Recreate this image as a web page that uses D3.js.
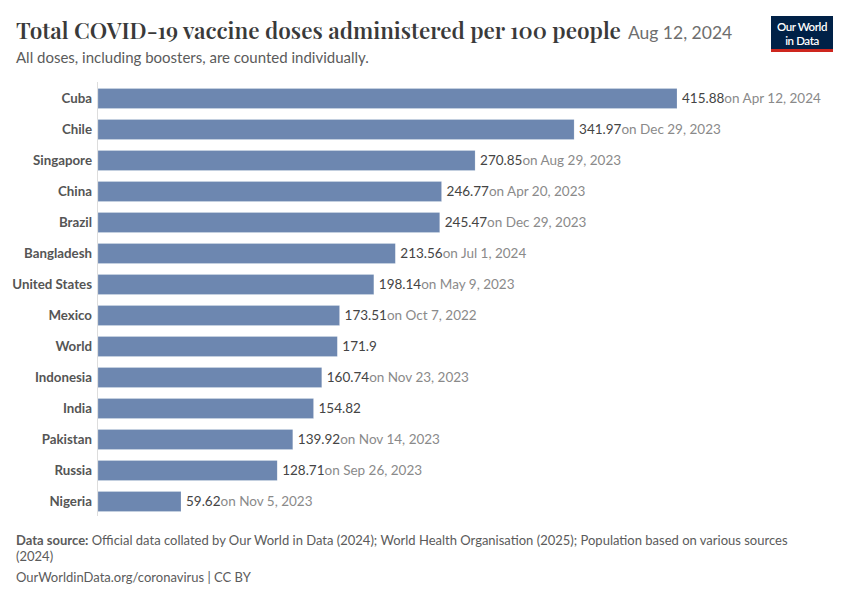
<!DOCTYPE html>
<html>
<head>
<meta charset="utf-8">
<script src="https://cdn.jsdelivr.net/npm/d3@7"></script>
<style>
  body { margin: 0; background: #fff; }
  text { font-family: Lato, "Open Sans", sans-serif; }
</style>
</head>
<body>
<svg id="chart" width="850" height="600"></svg>
<script>
// Countries, values and the date each value was last reported
var countries = ["Cuba", "Chile", "Singapore", "China", "Brazil", "Bangladesh", "United States",
                 "Mexico", "World", "Indonesia", "India", "Pakistan", "Russia", "Nigeria"];
var doses = [415.88, 341.97, 270.85, 246.77, 245.47, 213.56, 198.14,
             173.51, 171.9, 160.74, 154.82, 139.92, 128.71, 59.62];
var dates = ["Apr 12, 2024", "Dec 29, 2023", "Aug 29, 2023", "Apr 20, 2023", "Dec 29, 2023",
             "Jul 1, 2024", "May 9, 2023", "Oct 7, 2022", "", "Nov 23, 2023", "",
             "Nov 14, 2023", "Sep 26, 2023", "Nov 5, 2023"];

var svg = d3.select("#chart");

// Layout of the plot area
var plotLeft = 98,
    plotTop = 83,
    rowStep = 31,
    barHeight = 20,
    barColor = "#6d87b0";

var rows = countries.map(function (c, i) {
    return { country: c, value: doses[i], date: dates[i] };
});

var x = d3.scaleLinear().domain([0, 415.88]).range([plotLeft, 677]);
var y = d3.scaleBand()
    .domain(countries)
    .range([plotTop, plotTop + rowStep * countries.length])
    .paddingInner(1 - barHeight / rowStep)
    .paddingOuter((1 - barHeight / rowStep) / 2);

// Title and subtitle
var title = svg.append("text")
    .attr("x", 16)
    .attr("y", 39)
    .style("font-family", "'Playfair Display', 'Liberation Serif', 'DejaVu Serif', serif")
    .style("font-size", "22.5px")
    .style("font-weight", "600")
    .style("fill", "#3a3a3a");
title.append("tspan").text("Total COVID-19 vaccine doses administered per 100 people");
title.append("tspan")
    .attr("dx", 7)
    .style("font-family", "Lato, sans-serif")
    .style("font-weight", "400")
    .style("font-size", "17.5px")
    .style("fill", "#6e6e6e")
    .text("Aug 12, 2024");

svg.append("text")
    .attr("x", 16)
    .attr("y", 63)
    .style("font-size", "15px")
    .style("fill", "#5b5b5b")
    .text("All doses, including boosters, are counted individually.");

// Logo
var logo = svg.append("g").attr("transform", "translate(771,16)");
logo.append("rect").attr("width", 62).attr("height", 36).attr("fill", "#002147");
logo.append("rect").attr("y", 33).attr("width", 62).attr("height", 3).attr("fill", "#ce261e");
logo.append("text").attr("x", 31).attr("y", 15).attr("text-anchor", "middle")
    .style("font-size", "11.5px").style("font-weight", "600").style("fill", "#fff").style("letter-spacing", "-0.4px")
    .text("Our World");
logo.append("text").attr("x", 31).attr("y", 28.5).attr("text-anchor", "middle")
    .style("font-size", "11.5px").style("font-weight", "600").style("fill", "#fff").style("letter-spacing", "-0.4px")
    .text("in Data");

// Vertical baseline
svg.append("line")
    .attr("x1", plotLeft - 0.5).attr("x2", plotLeft - 0.5)
    .attr("y1", plotTop - 1).attr("y2", plotTop + rowStep * countries.length - 1)
    .attr("stroke", "#ddd")
    .attr("stroke-width", 1);

var row = svg.append("g").selectAll("g")
    .data(rows)
    .join("g")
    .attr("transform", function (d) { return "translate(0," + y(d.country) + ")"; });

row.append("rect")
    .attr("x", x(0))
    .attr("width", function (d) { return x(d.value) - x(0); })
    .attr("height", y.bandwidth())
    .attr("fill", barColor)
    .attr("stroke", "#fff")
    .attr("stroke-opacity", 0.4)
    .attr("stroke-width", 0.5);

row.append("text")
    .attr("x", plotLeft - 6)
    .attr("y", y.bandwidth() / 2)
    .attr("dy", "0.35em")
    .attr("text-anchor", "end")
    .style("font-size", "13.3px")
    .style("font-weight", "700")
    .style("fill", "#555")
    .text(function (d) { return d.country; });

var valueLabel = row.append("text")
    .attr("x", function (d) { return x(d.value) + 5; })
    .attr("y", y.bandwidth() / 2)
    .attr("dy", "0.35em")
    .style("font-size", "13.5px");
valueLabel.append("tspan")
    .style("fill", "#444")
    .text(function (d) { return d.value; });
valueLabel.append("tspan")
    .style("fill", "#8a8a8a")
    .text(function (d) { return d.date ? "on " + d.date : ""; });

// Footer
var source = svg.append("text")
    .attr("x", 16)
    .attr("y", 545)
    .style("font-size", "13px")
    .style("fill", "#5b5b5b");
source.append("tspan").style("font-weight", "700").text("Data source:");
source.append("tspan")
    .text(" Official data collated by Our World in Data (2024); World Health Organisation (2025); Population based on various sources");
svg.append("text")
    .attr("x", 16)
    .attr("y", 561)
    .style("font-size", "13px")
    .style("fill", "#5b5b5b")
    .text("(2024)");
svg.append("text")
    .attr("x", 16)
    .attr("y", 582)
    .style("font-size", "13px")
    .style("fill", "#5b5b5b")
    .text("OurWorldinData.org/coronavirus | CC BY");
</script>
</body>
</html>
